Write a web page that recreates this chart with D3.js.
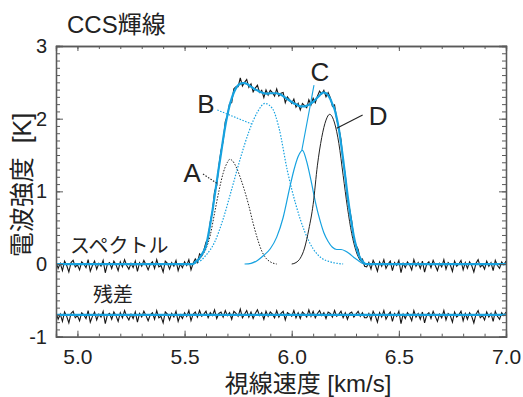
<!DOCTYPE html>
<html>
<head>
<meta charset="utf-8">
<script src="https://cdn.jsdelivr.net/npm/d3@7"></script>
<style>
  body { margin: 0; background: #fff; }
  text { font-family: "Liberation Sans", "Noto Sans CJK JP", sans-serif; fill: #222; }
</style>
</head>
<body>
<svg id="chart"></svg>
<script>
// ---------------- data (K, km/s) ----------------
const xMajorTicks = [5.0, 5.5, 6.0, 6.5, 7.0];
const yMajorTicks = [-1, 0, 1, 2, 3];

// observed spectrum, 0.01 km/s channels
const offLineStart = 4.90; // 4.90 .. 5.54
const offLineLeft = [
  0.03,-0.06,0.01,-0.09,0.04,-0.02,-0.11,0.02,0.05,-0.04,
  -0.01,-0.08,0.03,0.00,-0.05,0.06,-0.10,-0.02,0.04,-0.07,
  0.01,-0.03,0.05,-0.12,0.00,0.02,-0.06,0.04,-0.01,-0.09,
  0.03,-0.04,0.06,-0.02,-0.07,0.01,-0.05,0.04,-0.10,0.02,
  -0.03,0.05,-0.01,-0.08,0.00,0.03,-0.06,0.06,-0.04,-0.02,
  -0.11,0.04,0.01,-0.07,0.02,-0.03,0.05,-0.09,0.00,-0.05,
  0.03,-0.02,0.06,-0.08,0.01
];
const lineStart = 5.55; // 5.55 .. 6.34
const specLine = [
  0.07,0.02,0.14,0.11,0.19,0.30,0.35,0.58,0.72,1.00,
  1.08,1.35,1.56,1.69,1.96,2.04,2.21,2.22,2.41,2.44,
  2.44,2.56,2.45,2.50,2.54,2.43,2.48,2.37,2.42,2.46,
  2.36,2.39,2.29,2.395,2.325,2.39,2.36,2.31,2.41,2.31,
  2.35,2.36,2.22,2.30,2.26,2.21,2.27,2.16,2.21,2.12,
  2.21,2.18,2.15,2.26,2.19,2.28,2.22,2.31,2.38,2.34,
  2.39,2.30,2.36,2.29,2.17,2.19,1.99,1.87,1.71,1.40,
  1.23,0.90,0.76,0.59,0.35,0.26,0.20,0.06,0.07,-0.03
];
// fitted total (sum of A-D) on the same channels
const fitLine = [
  0.03,0.05,0.08,0.13,0.18,0.25,0.39,0.55,0.73,0.93,
  1.13,1.33,1.52,1.72,1.90,2.05,2.18,2.28,2.36,2.42,
  2.46,2.48,2.49,2.49,2.48,2.46,2.44,2.42,2.40,2.39,
  2.37,2.36,2.35,2.345,2.345,2.35,2.35,2.35,2.35,2.34,
  2.33,2.31,2.29,2.27,2.25,2.23,2.21,2.20,2.18,2.17,
  2.17,2.17,2.18,2.19,2.21,2.23,2.26,2.29,2.32,2.35,
  2.36,2.35,2.32,2.27,2.20,2.13,2.01,1.86,1.66,1.44,
  1.20,0.96,0.74,0.55,0.38,0.25,0.15,0.08,0.04,0.01
];
const offLineRightStart = 6.35; // 6.35 .. 7.00
const offLineRight = [
  -0.04,0.02,-0.07,0.05,-0.01,-0.10,0.03,-0.03,0.06,-0.06,
  0.00,0.04,-0.09,0.02,-0.02,0.05,-0.12,0.01,-0.05,0.03,
  -0.01,-0.08,0.06,-0.03,0.02,-0.06,0.04,-0.11,0.00,0.03,
  -0.05,0.05,-0.02,-0.09,0.01,-0.04,0.06,-0.07,0.02,-0.01,
  -0.10,0.04,-0.03,0.00,0.05,-0.08,0.02,-0.06,0.03,-0.02,
  -0.11,0.01,0.06,-0.04,-0.01,-0.07,0.04,-0.03,0.02,-0.09,
  0.05,-0.02,-0.06,0.03,-0.01,0.04
];
const residualOffset = -0.7;

// velocity components [km/s, K]
const compA = [[5.53,0],[5.55,0.01],[5.58,0.11],[5.60,0.21],[5.62,0.40],[5.64,0.70],[5.66,1.00],
  [5.68,1.25],[5.70,1.40],[5.71,1.44],[5.72,1.43],[5.74,1.34],[5.76,1.19],[5.78,1.01],[5.80,0.80],
  [5.82,0.56],[5.84,0.35],[5.86,0.18],[5.88,0.08],[5.90,0.03],[5.93,0]];
const compB = [[5.52,0],[5.56,0.02],[5.60,0.12],[5.64,0.30],[5.68,0.62],[5.72,1.03],[5.76,1.45],
  [5.80,1.82],[5.84,2.09],[5.875,2.21],[5.91,2.14],[5.94,1.88],[5.98,1.28],[6.02,0.81],[6.06,0.45],
  [6.10,0.21],[6.14,0.08],[6.18,0.03],[6.24,0]];
const compC = [[5.78,0],[5.81,0.01],[5.84,0.05],[5.87,0.12],[5.90,0.21],[5.93,0.37],[5.96,0.64],
  [5.99,1.04],[6.01,1.29],[6.03,1.48],[6.05,1.565],[6.07,1.41],[6.09,1.15],[6.11,0.86],[6.13,0.62],
  [6.15,0.43],[6.17,0.31],[6.19,0.23],[6.21,0.20],[6.23,0.20],[6.25,0.18],[6.27,0.14],[6.29,0.09],
  [6.31,0.05],[6.33,0.01],[6.36,0]];
const compD = [[6.00,0],[6.02,0.02],[6.04,0.08],[6.06,0.22],[6.08,0.48],[6.10,0.82],[6.12,1.36],
  [6.14,1.74],[6.16,1.98],[6.177,2.06],[6.20,1.94],[6.22,1.66],[6.24,1.22],[6.26,0.78],[6.28,0.42],
  [6.30,0.18],[6.32,0.05],[6.34,0.01],[6.36,0]];

// ---------------- channels ----------------
function channels(start, values) {
  return values.map((t, i) => ({ v: Math.round((start + i * 0.01) * 100) / 100, t: t }));
}
const spectrum = channels(offLineStart, offLineLeft)
  .concat(channels(lineStart, specLine))
  .concat(channels(offLineRightStart, offLineRight));
const fitByV = new Map(channels(lineStart, fitLine).map(d => [d.v, d.t]));
const fit = spectrum.map(d => ({ v: d.v, t: fitByV.get(d.v) || 0 }));
const residual = spectrum.map(d => ({ v: d.v, t: d.t - (fitByV.get(d.v) || 0) + residualOffset }));

// ---------------- svg ----------------
const width = 523, height = 397;
const cyan = "#16a2e0";
const axisGray = "#5a5a5a";

const svg = d3.select("#chart").attr("width", width).attr("height", height);

const x = d3.scaleLinear().domain([4.9, 7.0]).range([56, 506]);
const y = d3.scaleLinear().domain([-1, 3]).range([336.7, 46]);

svg.append("clipPath").attr("id", "plot")
  .append("rect")
  .attr("x", x(4.9)).attr("y", y(3))
  .attr("width", x(7.0) - x(4.9)).attr("height", y(-1) - y(3));

const plot = svg.append("g").attr("clip-path", "url(#plot)");

const rawLine = d3.line().x(d => x(d.v)).y(d => y(d.t));
const smoothLine = d3.line().x(d => x(d[0])).y(d => y(d[1])).curve(d3.curveMonotoneX);

// observed spectrum + residual
plot.append("path").datum(spectrum)
  .attr("d", rawLine).attr("fill", "none")
  .attr("stroke", "#151515").attr("stroke-width", 1.1).attr("stroke-linejoin", "miter");
plot.append("path").datum(residual)
  .attr("d", rawLine).attr("fill", "none")
  .attr("stroke", "#151515").attr("stroke-width", 1.1).attr("stroke-linejoin", "miter");

// components
plot.append("path").datum(compA).attr("d", smoothLine).attr("fill", "none")
  .attr("stroke", "#222").attr("stroke-width", 1).attr("stroke-dasharray", "1.5,1.5");
plot.append("path").datum(compB).attr("d", smoothLine).attr("fill", "none")
  .attr("stroke", cyan).attr("stroke-width", 1.2).attr("stroke-dasharray", "1.5,1.5");
plot.append("path").datum(compC).attr("d", smoothLine).attr("fill", "none")
  .attr("stroke", cyan).attr("stroke-width", 1.2);
plot.append("path").datum(compD).attr("d", smoothLine).attr("fill", "none")
  .attr("stroke", "#222").attr("stroke-width", 1);

// fitted total and residual zero line
plot.append("path").datum(fit.map(d => [d.v, d.t])).attr("d", smoothLine).attr("fill", "none")
  .attr("stroke", cyan).attr("stroke-width", 2.2);
plot.append("line")
  .attr("x1", x(4.9)).attr("x2", x(7.0))
  .attr("y1", y(residualOffset)).attr("y2", y(residualOffset))
  .attr("stroke", cyan).attr("stroke-width", 2.2);

// ---------------- axes ----------------
const minorX = d3.range(49, 71).map(d => d / 10);
const minorY = d3.range(-10, 31).map(d => d / 10);

function styleAxis(g) {
  g.select(".domain").attr("stroke", axisGray).attr("stroke-width", 1.3);
  g.selectAll(".tick line").attr("stroke", axisGray).attr("stroke-width", 1);
  g.selectAll(".tick text").attr("fill", "#222").attr("font-size", 20)
    .attr("font-family", "Liberation Sans, sans-serif");
}

svg.append("g").attr("transform", `translate(0,${y(-1)})`)
  .call(d3.axisBottom(x).tickValues(minorX).tickSize(-3).tickFormat(""))
  .call(styleAxis);
svg.append("g").attr("transform", `translate(0,${y(-1)})`)
  .call(d3.axisBottom(x).tickValues(xMajorTicks).tickSize(-6).tickPadding(12)
    .tickFormat(d3.format(".1f")))
  .call(styleAxis)
  .selectAll(".tick text").attr("font-size", 21);

svg.append("g").attr("transform", `translate(0,${y(3)})`)
  .call(d3.axisTop(x).tickValues(minorX).tickSize(-3).tickFormat(""))
  .call(styleAxis);
svg.append("g").attr("transform", `translate(0,${y(3)})`)
  .call(d3.axisTop(x).tickValues(xMajorTicks).tickSize(-5).tickFormat(""))
  .call(styleAxis);

svg.append("g").attr("transform", `translate(${x(4.9)},0)`)
  .call(d3.axisLeft(y).tickValues(minorY).tickSize(-4).tickFormat(""))
  .call(styleAxis);
svg.append("g").attr("transform", `translate(${x(4.9)},0)`)
  .call(d3.axisLeft(y).tickValues(yMajorTicks).tickSize(-7).tickPadding(9)
    .tickFormat(d => String(d)))
  .call(styleAxis);

svg.append("g").attr("transform", `translate(${x(7.0)},0)`)
  .call(d3.axisRight(y).tickValues(minorY).tickSize(-4).tickFormat(""))
  .call(styleAxis);
svg.append("g").attr("transform", `translate(${x(7.0)},0)`)
  .call(d3.axisRight(y).tickValues(yMajorTicks).tickSize(-7).tickFormat(""))
  .call(styleAxis);

// ---------------- annotations ----------------
const leaders = [
  { name: "A", from: [5.586, 1.238], to: [5.656, 1.101], at: [5.535, 1.128], color: "#222", dash: "1.5,1.5" },
  { name: "B", from: [5.653, 2.119], to: [5.813, 1.927], at: [5.600, 2.078], color: cyan, dash: "1.5,1.5" },
  { name: "C", from: [6.104, 2.463], to: [6.047, 1.559], at: [6.132, 2.518], color: cyan, dash: null },
  { name: "D", from: [6.331, 2.050], to: [6.210, 1.867], at: [6.403, 1.913], color: "#222", dash: null }
];
leaders.forEach(l => {
  svg.append("line")
    .attr("x1", x(l.from[0])).attr("y1", y(l.from[1]))
    .attr("x2", x(l.to[0])).attr("y2", y(l.to[1]))
    .attr("stroke", l.color).attr("stroke-width", 1.1)
    .attr("stroke-dasharray", l.dash);
  svg.append("text")
    .attr("x", x(l.at[0])).attr("y", y(l.at[1]))
    .attr("text-anchor", "middle").attr("font-size", 26)
    .text(l.name);
});

svg.append("text").attr("x", x(4.965)).attr("y", y(0.151))
  .attr("font-size", 20).text("スペクトル");
svg.append("text").attr("x", x(5.166)).attr("y", y(-0.523))
  .attr("text-anchor", "middle").attr("font-size", 20).text("残差");

// titles
svg.append("text").attr("x", 67).attr("y", 33)
  .attr("font-size", 24).text("CCS輝線");
svg.append("text").attr("x", 308).attr("y", 392)
  .attr("text-anchor", "middle").attr("font-size", 24).text("視線速度 [km/s]");
svg.append("text")
  .attr("transform", "translate(31,185) rotate(-90)")
  .attr("text-anchor", "middle").attr("font-size", 25)
  .style("white-space", "pre")
  .text("電波強度  [K]");
</script>
</body>
</html>
